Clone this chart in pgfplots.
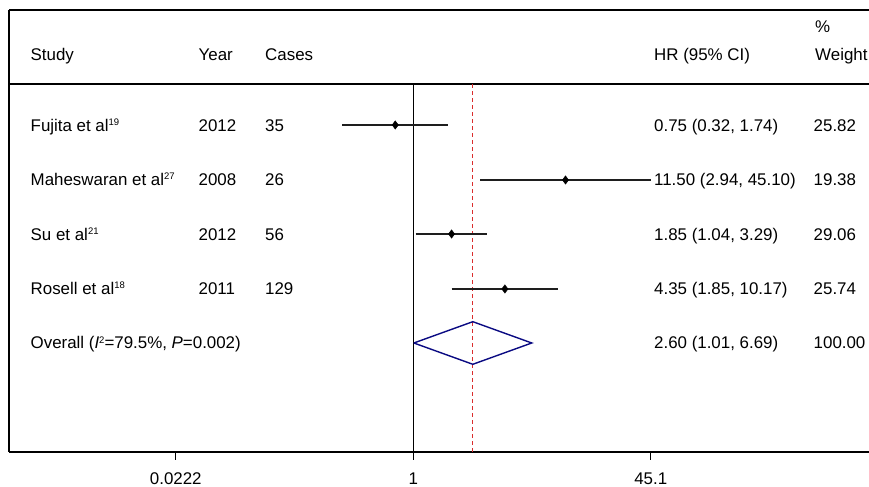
\documentclass[border=0pt]{standalone}
\usepackage{fontspec}
\setmainfont{Liberation Sans}
\usepackage{pgfplots}
\pgfplotsset{compat=1.18}
\definecolor{ciline}{RGB}{30,30,30}
\definecolor{refred}{RGB}{218,45,45}
\definecolor{navyblue}{RGB}{10,10,130}
\newcommand{\fs}{\fontsize{16.9bp}{19bp}\selectfont}
\newcommand{\sups}[1]{\raisebox{5.6bp}{\fontsize{9.5bp}{10bp}\selectfont #1}}
\begin{document}
\begin{tikzpicture}[x=1bp,y=1bp]
\path[use as bounding box] (0,0) rectangle (869,487);
\begin{axis}[
  at={(9bp,35bp)}, anchor=south west,
  scale only axis, width=860bp, height=442bp,
  xmode=log, xmin=0.0015307, xmax=1493.7, ymin=0, ymax=442,
  axis x line*=bottom, axis y line*=left,
  every outer x axis line/.append style={-},
  every outer y axis line/.append style={-},
  axis line style={-, line width=1.5bp, black},
  xtick={0.0222,1,45.1}, xticklabels={0.0222,1,45.1},
  minor xtick={},
  ytick=\empty,
  tick align=outside, major tick length=8bp,
  xtick style={line width=1.3bp, black},
  /pgf/number format/assume math mode=true,
  xticklabel style={font=\fs, anchor=base, yshift=-25bp},
  clip=false,
]
% frame lines (top and header separator)
\addplot[black, line width=1.5bp] coordinates {(0.0015307,442) (1493.7,442)};
\addplot[black, line width=1.5bp] coordinates {(0.0015307,368) (1493.7,368)};
% null line
\addplot[black, line width=1.4bp] coordinates {(1,0) (1,368)};
% overall effect line
\addplot[refred, line width=1.3bp, dash pattern=on 4bp off 3bp] coordinates {(2.60,0) (2.60,368)};
% confidence intervals
\addplot[ciline, line width=1.3bp] coordinates {(0.32,327) (1.74,327)};
\addplot[ciline, line width=1.3bp] coordinates {(2.94,272) (45.10,272)};
\addplot[ciline, line width=1.3bp] coordinates {(1.04,218) (3.29,218)};
\addplot[ciline, line width=1.3bp] coordinates {(1.85,163) (10.17,163)};
% point estimates
\addplot[only marks, mark=diamond*, mark size=4.2bp, black] coordinates {
(0.75,327) (11.50,272) (1.85,218) (4.35,163)};
% overall diamond
\addplot[navyblue, line width=1.4bp] coordinates {(1.01,109) (2.60,130.3) (6.69,109) (2.60,87.7) (1.01,109)};
\end{axis}
% header
\node[anchor=base west, inner sep=0] at (30.5,426) {\fs Study};
\node[anchor=base west, inner sep=0] at (198.5,426) {\fs Year};
\node[anchor=base west, inner sep=0] at (265,426) {\fs Cases};
\node[anchor=base west, inner sep=0] at (654,426) {\fs HR (95\% CI)};
\node[anchor=base west, inner sep=0] at (815,454) {\fs \%};
\node[anchor=base west, inner sep=0] at (815,426) {\fs Weight};
% rows
\node[anchor=base west, inner sep=0] at (30.5,355.5) {\fs Fujita et al\sups{19}};
\node[anchor=base west, inner sep=0] at (198.5,355.5) {\fs 2012};
\node[anchor=base west, inner sep=0] at (265,355.5) {\fs 35};
\node[anchor=base west, inner sep=0] at (654,355.5) {\fs 0.75 (0.32, 1.74)};
\node[anchor=base west, inner sep=0] at (813.5,355.5) {\fs 25.82};
\node[anchor=base west, inner sep=0] at (30.5,301.5) {\fs Maheswaran et al\sups{27}};
\node[anchor=base west, inner sep=0] at (198.5,301.5) {\fs 2008};
\node[anchor=base west, inner sep=0] at (265,301.5) {\fs 26};
\node[anchor=base west, inner sep=0] at (654,301.5) {\fs 11.50 (2.94, 45.10)};
\node[anchor=base west, inner sep=0] at (813.5,301.5) {\fs 19.38};
\node[anchor=base west, inner sep=0] at (30.5,246.5) {\fs Su et al\sups{21}};
\node[anchor=base west, inner sep=0] at (198.5,246.5) {\fs 2012};
\node[anchor=base west, inner sep=0] at (265,246.5) {\fs 56};
\node[anchor=base west, inner sep=0] at (654,246.5) {\fs 1.85 (1.04, 3.29)};
\node[anchor=base west, inner sep=0] at (813.5,246.5) {\fs 29.06};
\node[anchor=base west, inner sep=0] at (30.5,192.5) {\fs Rosell et al\sups{18}};
\node[anchor=base west, inner sep=0] at (198.5,192.5) {\fs 2011};
\node[anchor=base west, inner sep=0] at (265,192.5) {\fs 129};
\node[anchor=base west, inner sep=0] at (654,192.5) {\fs 4.35 (1.85, 10.17)};
\node[anchor=base west, inner sep=0] at (813.5,192.5) {\fs 25.74};
\node[anchor=base west, inner sep=0] at (30.5,138) {\fs Overall (\textit{I}\sups{2}=79.5\%, \textit{P}=0.002)};
\node[anchor=base west, inner sep=0] at (654,138) {\fs 2.60 (1.01, 6.69)};
\node[anchor=base west, inner sep=0] at (813.5,138) {\fs 100.00};
\end{tikzpicture}
\end{document}
